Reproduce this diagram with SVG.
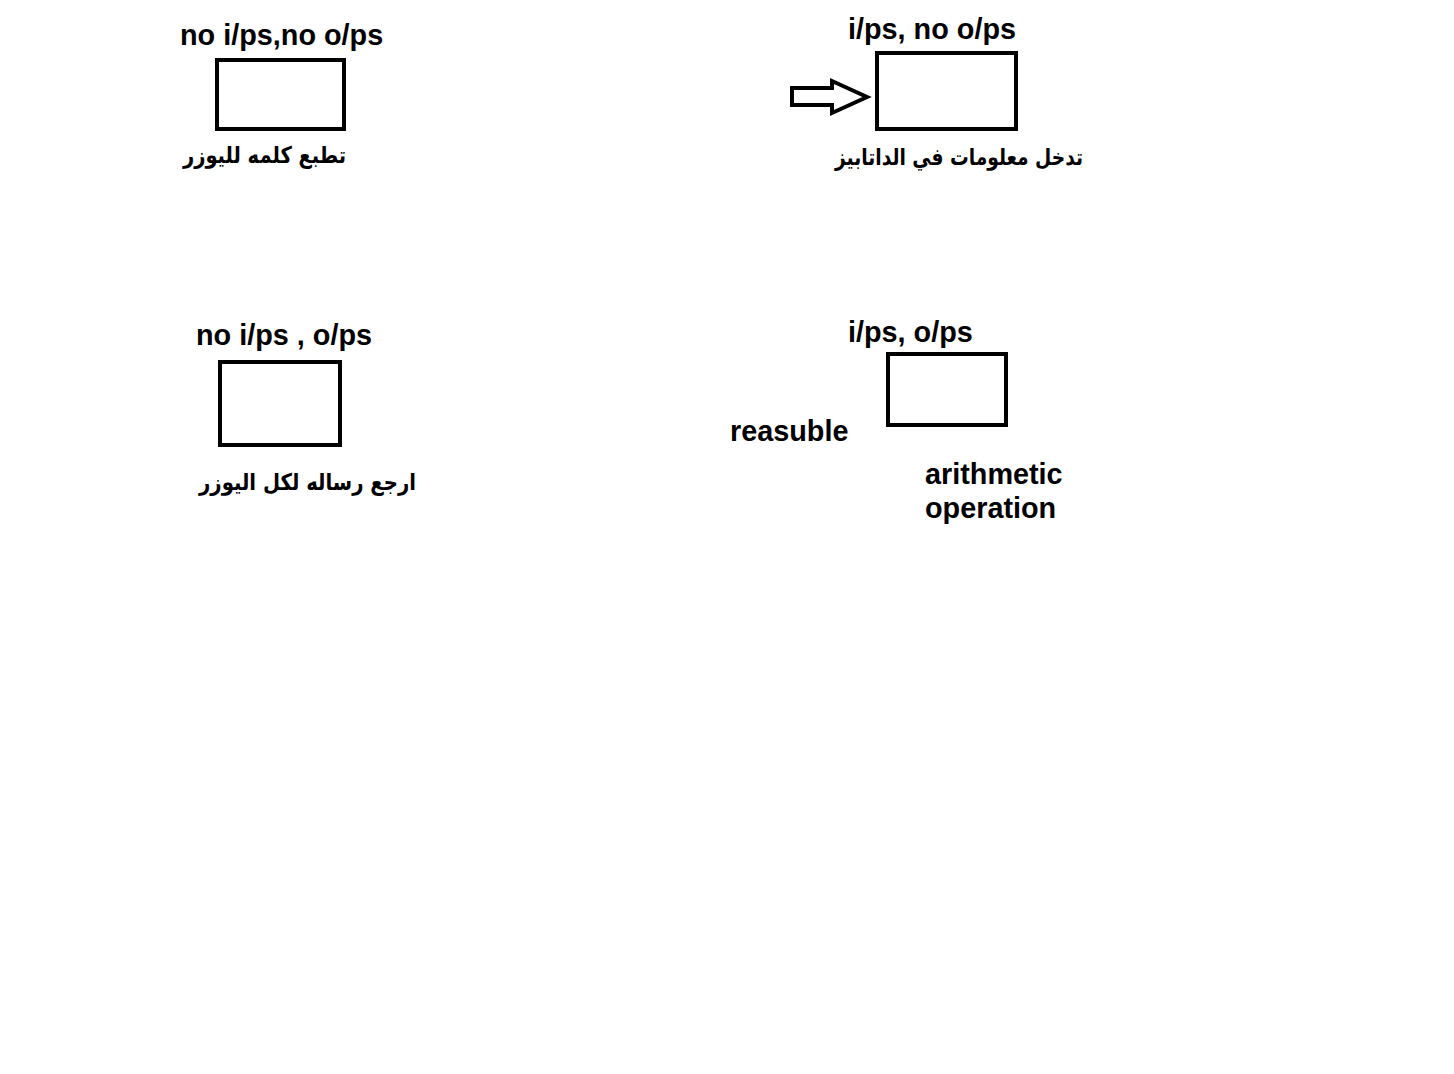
<svg xmlns="http://www.w3.org/2000/svg" width="1454" height="1074" viewBox="0 0 1454 1074">
<style>
.box{fill:#fff;stroke:#000;stroke-width:4}
.lbl{font-family:"Liberation Sans",Arial,sans-serif;font-weight:bold;font-size:28.8px;fill:#000}
.ar{font-family:"DejaVu Sans",sans-serif;font-weight:bold;font-size:23px;fill:#000;text-anchor:middle}
</style>
<rect x="0" y="0" width="1454" height="1074" fill="#fff"/>
<g id="connectors">
<polygon points="792,88 832,88 832,81 867,97 832,113 832,105 792,105" fill="#fff" stroke="#000" stroke-width="4" stroke-linejoin="miter"/>
</g>
<g id="node1">
<text class="lbl" x="180" y="45">no i/ps,no o/ps</text>
<rect class="box" x="217" y="60" width="127" height="69"/>
<text class="ar" x="264.5" y="163" textLength="163" lengthAdjust="spacingAndGlyphs">تطبع كلمه لليوزر</text>
</g>
<g id="node2">
<text class="lbl" x="848" y="39">i/ps, no o/ps</text>
<rect class="box" x="877" y="53" width="139" height="76"/>
<text class="ar" x="959" y="165" textLength="248" lengthAdjust="spacingAndGlyphs">تدخل معلومات في الداتابيز</text>
</g>
<g id="node3">
<text class="lbl" x="196" y="345">no i/ps , o/ps</text>
<rect class="box" x="220" y="362" width="120" height="83"/>
<text class="ar" x="307.5" y="490" textLength="217" lengthAdjust="spacingAndGlyphs">ارجع رساله لكل اليوزر</text>
</g>
<g id="node4">
<text class="lbl" x="848" y="342">i/ps, o/ps</text>
<rect class="box" x="888" y="354" width="118" height="71"/>
<text class="lbl" x="730" y="441">reasuble</text>
<text class="lbl" x="925" y="484">arithmetic</text>
<text class="lbl" x="925" y="518">operation</text>
</g>
</svg>
